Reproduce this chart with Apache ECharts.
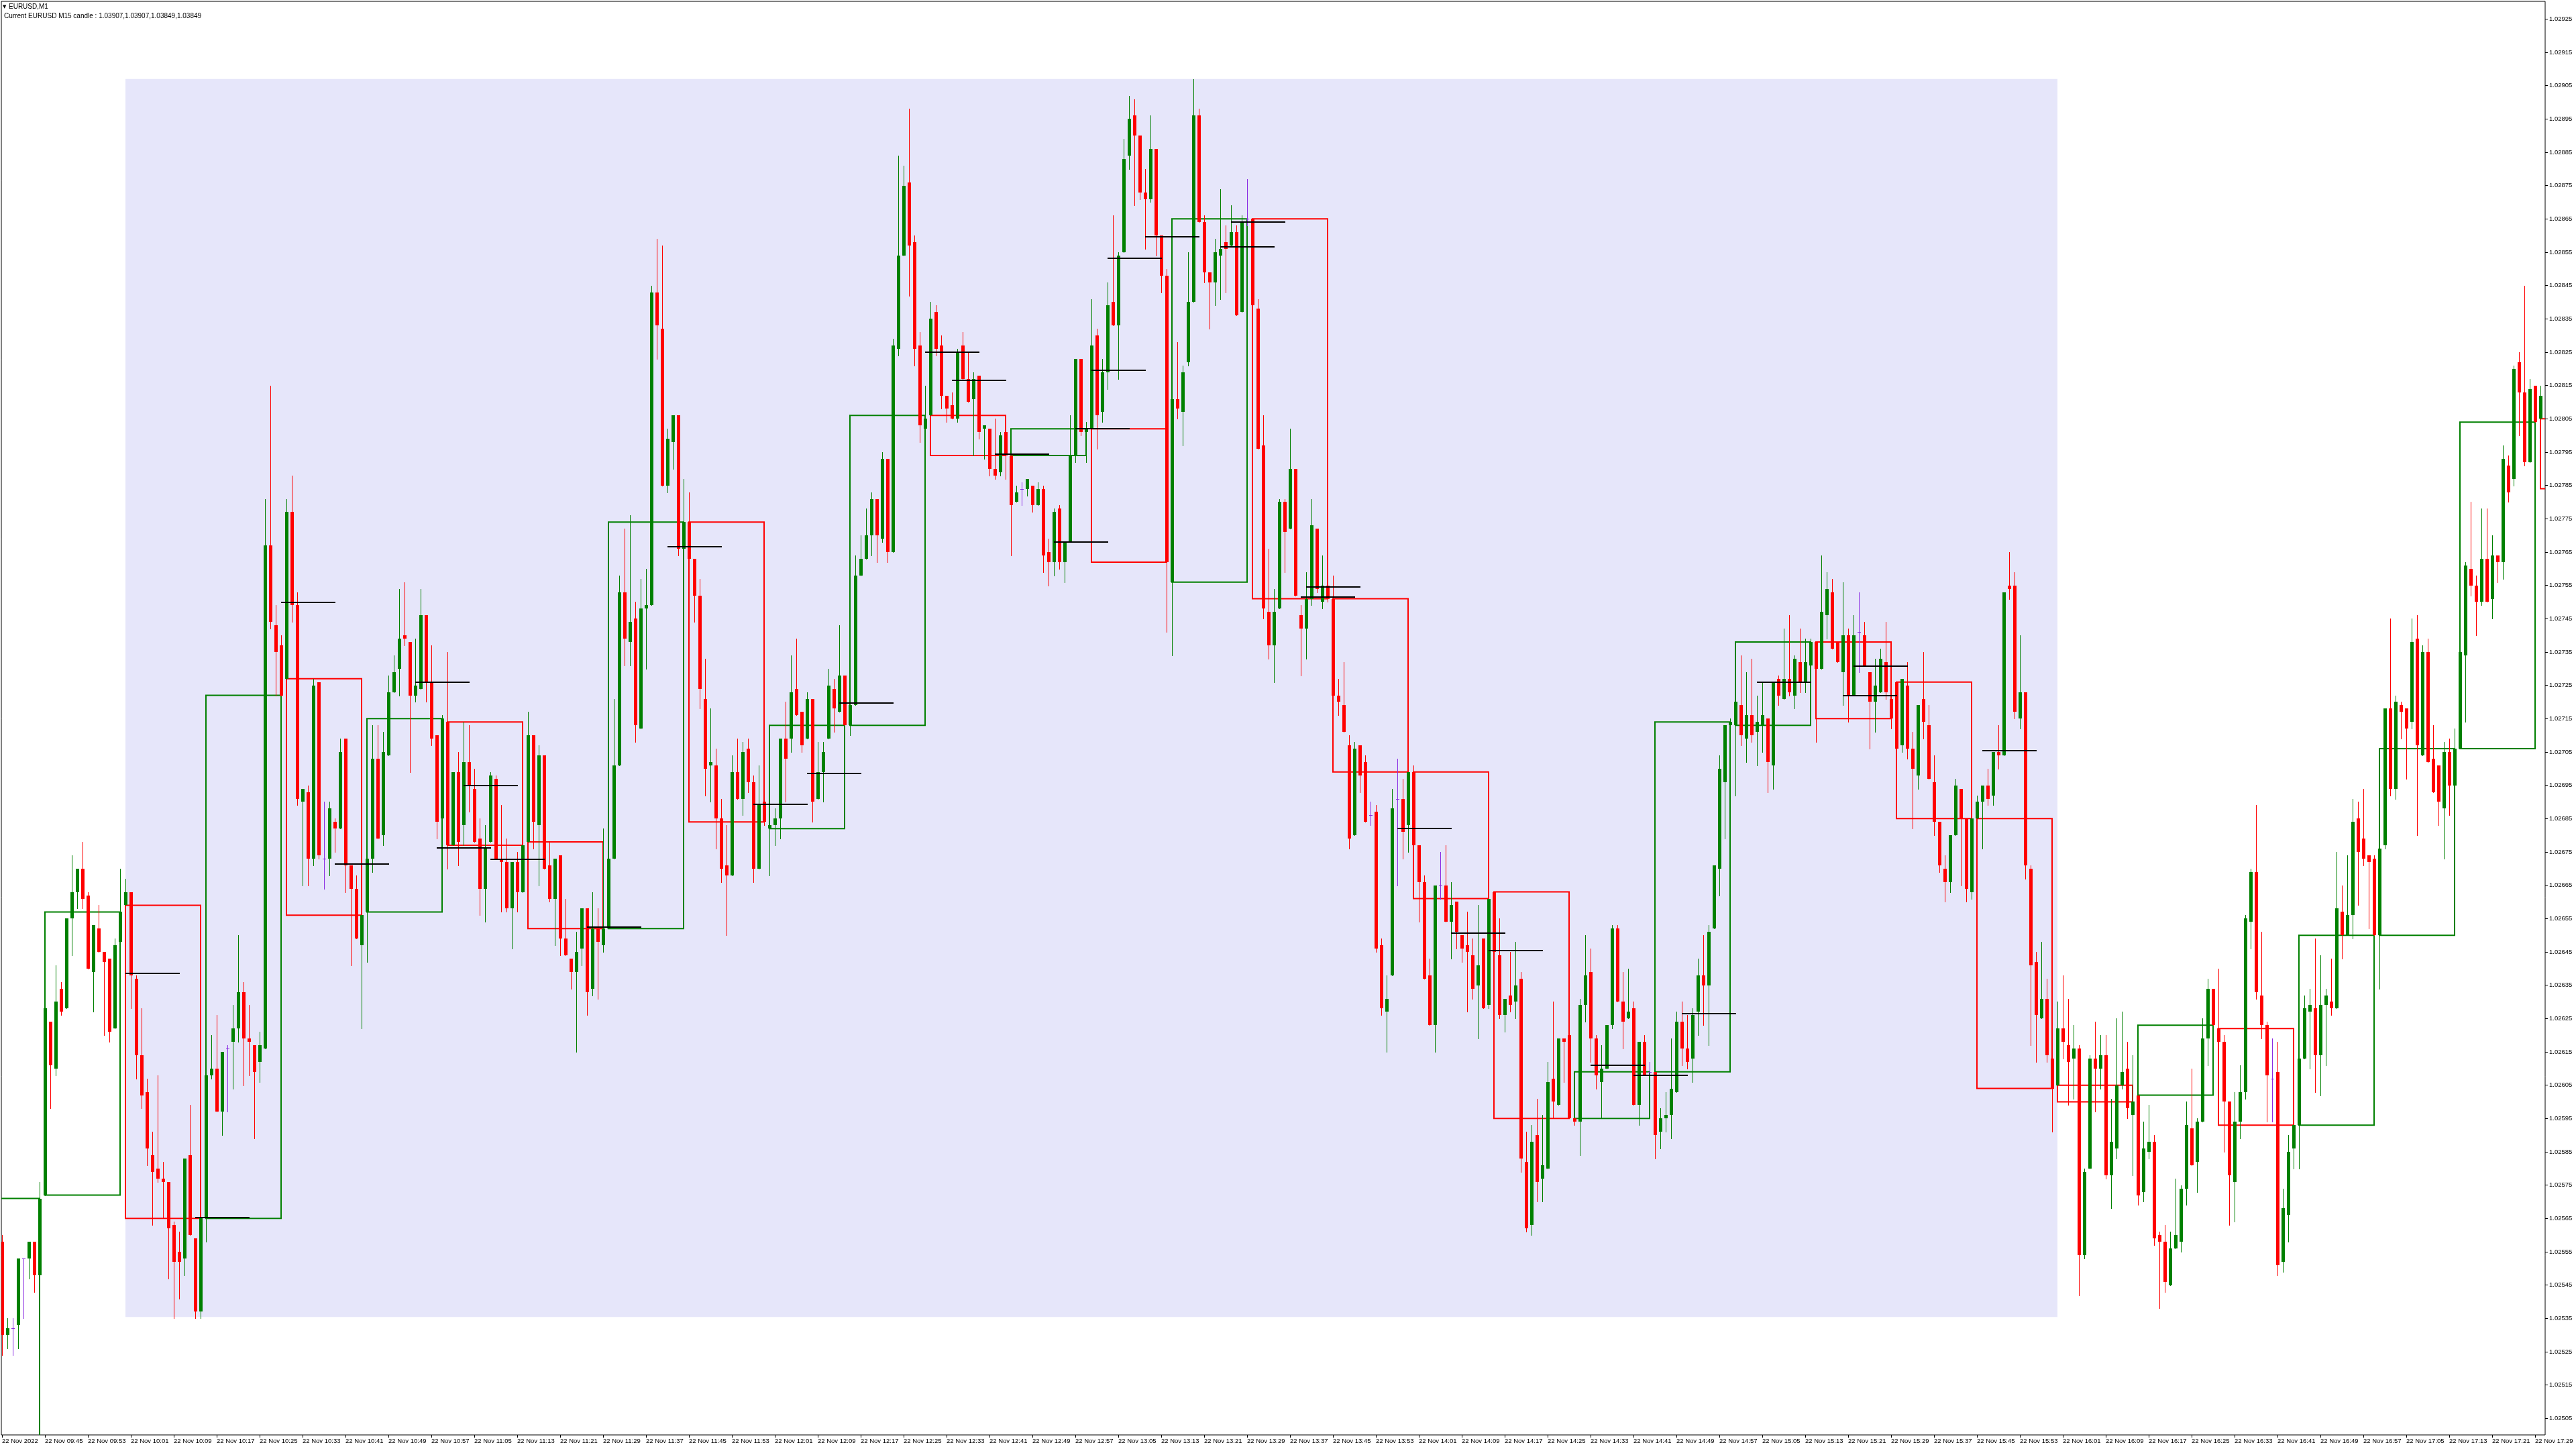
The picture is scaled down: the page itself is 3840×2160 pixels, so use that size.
<!DOCTYPE html>
<html><head><meta charset="utf-8">
<script src="https://cdn.jsdelivr.net/npm/echarts@6/dist/echarts.min.js"></script>
<style>html,body{margin:0;padding:0;background:#fff}#c{width:3840px;height:2160px}</style>
</head><body><div id="c"></div>
<script>
const xTickLabels = ['22 Nov 2022','22 Nov 09:45','22 Nov 09:53','22 Nov 10:01','22 Nov 10:09','22 Nov 10:17','22 Nov 10:25','22 Nov 10:33','22 Nov 10:41','22 Nov 10:49','22 Nov 10:57','22 Nov 11:05','22 Nov 11:13','22 Nov 11:21','22 Nov 11:29','22 Nov 11:37','22 Nov 11:45','22 Nov 11:53','22 Nov 12:01','22 Nov 12:09','22 Nov 12:17','22 Nov 12:25','22 Nov 12:33','22 Nov 12:41','22 Nov 12:49','22 Nov 12:57','22 Nov 13:05','22 Nov 13:13','22 Nov 13:21','22 Nov 13:29','22 Nov 13:37','22 Nov 13:45','22 Nov 13:53','22 Nov 14:01','22 Nov 14:09','22 Nov 14:17','22 Nov 14:25','22 Nov 14:33','22 Nov 14:41','22 Nov 14:49','22 Nov 14:57','22 Nov 15:05','22 Nov 15:13','22 Nov 15:21','22 Nov 15:29','22 Nov 15:37','22 Nov 15:45','22 Nov 15:53','22 Nov 16:01','22 Nov 16:09','22 Nov 16:17','22 Nov 16:25','22 Nov 16:33','22 Nov 16:41','22 Nov 16:49','22 Nov 16:57','22 Nov 17:05','22 Nov 17:13','22 Nov 17:21','22 Nov 17:29'];
const yTickLabels = ['1.02505','1.02515','1.02525','1.02535','1.02545','1.02555','1.02565','1.02575','1.02585','1.02595','1.02605','1.02615','1.02625','1.02635','1.02645','1.02655','1.02665','1.02675','1.02685','1.02695','1.02705','1.02715','1.02725','1.02735','1.02745','1.02755','1.02765','1.02775','1.02785','1.02795','1.02805','1.02815','1.02825','1.02835','1.02845','1.02855','1.02865','1.02875','1.02885','1.02895','1.02905','1.02915','1.02925'];

const opens = [1.02558,1.02530,1.02532,1.02533,1.02553,1.02553,1.02558,1.02548,1.02572,1.02624,
1.02610,1.02634,1.02628,1.02655,1.02663,1.02670,1.02662,1.02639,1.02652,1.02645,
1.02643,1.02622,1.02648,1.02659,1.02663,1.02637,1.02614,1.02603,1.02584,1.02580,
1.02577,1.02576,1.02563,1.02555,1.02553,1.02584,1.02559,1.02537,1.02565,1.02608,
1.02610,1.02597,1.02616,1.02618,1.02622,1.02633,1.02619,1.02617,1.02612,1.02616,
1.02767,1.02743,1.02737,1.02727,1.02777,1.02749,1.02690,1.02693,1.02673,1.02726,
1.02673,1.02673,1.02684,1.02682,1.02709,1.02671,1.02664,1.02647,1.02657,1.02673,
1.02703,1.02680,1.02704,1.02723,1.02730,1.02740,1.02738,1.02722,1.02724,1.02746,
1.02726,1.02710,1.02685,1.02714,1.02677,1.02699,1.02683,1.02702,1.02694,1.02679,
1.02664,1.02678,1.02697,1.02673,1.02672,1.02658,1.02672,1.02663,1.02678,1.02710,
1.02683,1.02704,1.02671,1.02661,1.02674,1.02649,1.02643,1.02639,1.02646,1.02658,
1.02634,1.02652,1.02647,1.02652,1.02673,1.02701,1.02753,1.02738,1.02745,1.02712,
1.02748,1.02749,1.02843,1.02832,1.02785,1.02798,1.02806,1.02766,1.02774,1.02763,
1.02752,1.02721,1.02701,1.02701,1.02685,1.02671,1.02668,1.02699,1.02691,1.02706,
1.02696,1.02670,1.02690,1.02682,1.02683,1.02685,1.02709,1.02709,1.02724,1.02717,
1.02709,1.02721,1.02691,1.02699,1.02709,1.02724,1.02717,1.02728,1.02713,1.02719,
1.02758,1.02763,1.02770,1.02781,1.02769,1.02793,1.02765,1.02826,1.02854,1.02876,
1.02858,1.02827,1.02802,1.02806,1.02837,1.02827,1.02812,1.02809,1.02805,1.02827,
1.02817,1.02811,1.02818,1.02802,1.02802,1.02790,1.02789,1.02801,1.02794,1.02780,
1.02784,1.02784,1.02785,1.02779,1.02784,1.02765,1.02762,1.02778,1.02762,1.02768,
1.02794,1.02823,1.02801,1.02802,1.02830,1.02807,1.02819,1.02840,1.02833,1.02855,
1.02884,1.02896,1.02890,1.02873,1.02871,1.02886,1.02860,1.02848,1.02756,1.02811,
1.02807,1.02822,1.02840,1.02896,1.02864,1.02849,1.02846,1.02854,1.02858,1.02857,
1.02861,1.02837,1.02865,1.02865,1.02838,1.02797,1.02747,1.02737,1.02748,1.02780,
1.02772,1.02790,1.02746,1.02742,1.02751,1.02772,1.02750,1.02755,1.02751,1.02722,
1.02719,1.02707,1.02680,1.02707,1.02702,1.02686,1.02687,1.02647,1.02627,1.02638,
1.02691,1.02691,1.02683,1.02699,1.02677,1.02666,1.02638,1.02623,1.02665,1.02665,
1.02654,1.02660,1.02650,1.02647,1.02644,1.02635,1.02649,1.02629,1.02663,1.02644,
1.02626,1.02632,1.02630,1.02637,1.02582,1.02563,1.02590,1.02577,1.02580,1.02607,
1.02599,1.02619,1.02620,1.02595,1.02594,1.02629,1.02639,1.02619,1.02606,1.02610,
1.02623,1.02652,1.02630,1.02625,1.02628,1.02599,1.02618,1.02609,1.02609,1.02591,
1.02595,1.02596,1.02603,1.02624,1.02616,1.02613,1.02627,1.02638,1.02635,1.02652,
1.02670,1.02696,1.02713,1.02713,1.02719,1.02709,1.02716,1.02711,1.02713,1.02715,
1.02701,1.02727,1.02721,1.02727,1.02722,1.02732,1.02726,1.02731,1.02738,1.02730,
1.02746,1.02753,1.02738,1.02729,1.02740,1.02722,1.02741,1.02740,1.02729,1.02720,
1.02723,1.02732,1.02721,1.02726,1.02707,1.02725,1.02706,1.02698,1.02721,1.02713,
1.02696,1.02684,1.02670,1.02666,1.02680,1.02694,1.02685,1.02663,1.02685,1.02690,
1.02695,1.02692,1.02705,1.02704,1.02755,1.02755,1.02715,1.02723,1.02670,1.02642,
1.02625,1.02631,1.02613,1.02605,1.02622,1.02617,1.02613,1.02616,1.02554,1.02580,
1.02613,1.02610,1.02614,1.02578,1.02586,1.02605,1.02610,1.02596,1.02602,1.02573,
1.02585,1.02588,1.02560,1.02558,1.02545,1.02556,1.02558,1.02574,1.02592,1.02582,
1.02594,1.02619,1.02634,1.02622,1.02618,1.02600,1.02576,1.02594,1.02603,1.02654,
1.02669,1.02632,1.02623,1.02607,1.02609,1.02552,1.02566,1.02586,1.02593,1.02613,
1.02627,1.02628,1.02614,1.02629,1.02630,1.02628,1.02657,1.02650,1.02656,1.02685,
1.02679,1.02674,1.02673,1.02650,1.02677,1.02718,1.02694,1.02719,1.02718,1.02714,
1.02739,1.02704,1.02735,1.02703,1.02701,1.02688,1.02705,1.02695,1.02706,1.02734,
1.02760,1.02755,1.02750,1.02763,1.02751,1.02764,1.02762,1.02791,1.02787,1.02822,
1.02813,1.02792,1.02815,1.02805];

const highs = [1.02560,1.02535,1.02535,1.02553,1.02553,1.02558,1.02558,1.02576,1.02628,1.02624,
1.02641,1.02636,1.02655,1.02674,1.02670,1.02678,1.02663,1.02653,1.02659,1.02645,
1.02643,1.02649,1.02670,1.02667,1.02663,1.02638,1.02628,1.02607,1.02591,1.02608,
1.02582,1.02576,1.02564,1.02561,1.02583,1.02599,1.02559,1.02565,1.02608,1.02620,
1.02626,1.02615,1.02617,1.02629,1.02650,1.02636,1.02629,1.02617,1.02621,1.02781,
1.02815,1.02749,1.02740,1.02781,1.02788,1.02753,1.02694,1.02695,1.02727,1.02726,
1.02690,1.02690,1.02685,1.02709,1.02709,1.02671,1.02668,1.02656,1.02673,1.02713,
1.02713,1.02711,1.02728,1.02734,1.02754,1.02756,1.02738,1.02739,1.02754,1.02746,
1.02737,1.02710,1.02716,1.02735,1.02699,1.02705,1.02714,1.02713,1.02700,1.02685,
1.02683,1.02699,1.02698,1.02689,1.02679,1.02672,1.02675,1.02677,1.02717,1.02710,
1.02707,1.02704,1.02678,1.02673,1.02674,1.02661,1.02643,1.02651,1.02658,1.02658,
1.02663,1.02658,1.02682,1.02673,1.02721,1.02758,1.02772,1.02776,1.02750,1.02757,
1.02760,1.02845,1.02859,1.02857,1.02802,1.02806,1.02806,1.02787,1.02783,1.02763,
1.02757,1.02733,1.02718,1.02706,1.02691,1.02683,1.02704,1.02709,1.02708,1.02709,
1.02698,1.02701,1.02690,1.02693,1.02688,1.02709,1.02720,1.02734,1.02739,1.02717,
1.02723,1.02721,1.02708,1.02708,1.02730,1.02727,1.02743,1.02728,1.02719,1.02764,
1.02770,1.02778,1.02783,1.02781,1.02795,1.02793,1.02829,1.02884,1.02881,1.02898,
1.02860,1.02831,1.02815,1.02840,1.02839,1.02830,1.02812,1.02813,1.02826,1.02831,
1.02825,1.02819,1.02818,1.02803,1.02802,1.02805,1.02801,1.02801,1.02794,1.02785,
1.02786,1.02787,1.02785,1.02786,1.02785,1.02769,1.02778,1.02779,1.02768,1.02806,
1.02823,1.02823,1.02804,1.02841,1.02832,1.02823,1.02846,1.02866,1.02855,1.02889,
1.02902,1.02901,1.02890,1.02880,1.02896,1.02886,1.02860,1.02850,1.02811,1.02828,
1.02821,1.02855,1.02907,1.02898,1.02866,1.02849,1.02859,1.02874,1.02863,1.02869,
1.02863,1.02866,1.02877,1.02865,1.02841,1.02806,1.02766,1.02754,1.02781,1.02781,
1.02802,1.02790,1.02749,1.02759,1.02781,1.02772,1.02764,1.02759,1.02758,1.02727,
1.02732,1.02710,1.02708,1.02707,1.02704,1.02690,1.02689,1.02649,1.02638,1.02694,
1.02703,1.02697,1.02699,1.02701,1.02677,1.02668,1.02643,1.02665,1.02675,1.02677,
1.02666,1.02660,1.02650,1.02657,1.02649,1.02659,1.02649,1.02661,1.02663,1.02655,
1.02631,1.02645,1.02648,1.02639,1.02591,1.02593,1.02601,1.02596,1.02612,1.02630,
1.02619,1.02619,1.02620,1.02595,1.02631,1.02650,1.02646,1.02620,1.02617,1.02623,
1.02653,1.02653,1.02639,1.02640,1.02630,1.02618,1.02620,1.02612,1.02609,1.02598,
1.02603,1.02619,1.02627,1.02630,1.02626,1.02628,1.02643,1.02650,1.02653,1.02671,
1.02704,1.02713,1.02715,1.02720,1.02734,1.02729,1.02733,1.02722,1.02726,1.02715,
1.02726,1.02728,1.02742,1.02746,1.02734,1.02742,1.02739,1.02739,1.02738,1.02764,
1.02759,1.02757,1.02738,1.02756,1.02742,1.02746,1.02753,1.02744,1.02729,1.02733,
1.02736,1.02744,1.02721,1.02726,1.02727,1.02732,1.02711,1.02719,1.02735,1.02719,
1.02704,1.02684,1.02674,1.02680,1.02697,1.02694,1.02685,1.02685,1.02692,1.02695,
1.02700,1.02705,1.02713,1.02753,1.02765,1.02759,1.02740,1.02723,1.02671,1.02645,
1.02648,1.02637,1.02613,1.02630,1.02638,1.02631,1.02623,1.02617,1.02580,1.02614,
1.02624,1.02620,1.02620,1.02601,1.02625,1.02627,1.02618,1.02614,1.02602,1.02594,
1.02599,1.02590,1.02561,1.02563,1.02561,1.02577,1.02575,1.02600,1.02610,1.02595,
1.02625,1.02637,1.02634,1.02640,1.02620,1.02600,1.02603,1.02611,1.02656,1.02670,
1.02689,1.02651,1.02624,1.02619,1.02618,1.02574,1.02590,1.02593,1.02613,1.02632,
1.02634,1.02649,1.02644,1.02634,1.02643,1.02675,1.02665,1.02674,1.02691,1.02690,
1.02694,1.02674,1.02674,1.02676,1.02718,1.02745,1.02722,1.02720,1.02718,1.02745,
1.02746,1.02737,1.02739,1.02713,1.02701,1.02708,1.02709,1.02712,1.02735,1.02762,
1.02780,1.02758,1.02778,1.02778,1.02770,1.02764,1.02797,1.02794,1.02821,1.02825,
1.02845,1.02817,1.02815,1.02815];

const lows = [1.02524,1.02526,1.02524,1.02526,1.02535,1.02547,1.02543,1.02540,1.02572,1.02598,
1.02608,1.02626,1.02628,1.02644,1.02658,1.02658,1.02640,1.02627,1.02645,1.02620,
1.02618,1.02622,1.02648,1.02659,1.02628,1.02607,1.02598,1.02581,1.02563,1.02576,
1.02565,1.02547,1.02535,1.02541,1.02548,1.02560,1.02535,1.02535,1.02558,1.02607,
1.02597,1.02590,1.02597,1.02604,1.02618,1.02605,1.02608,1.02589,1.02606,1.02616,
1.02742,1.02722,1.02722,1.02727,1.02744,1.02689,1.02665,1.02665,1.02671,1.02673,
1.02664,1.02668,1.02675,1.02682,1.02663,1.02641,1.02649,1.02622,1.02642,1.02669,
1.02679,1.02677,1.02704,1.02723,1.02722,1.02737,1.02699,1.02720,1.02724,1.02720,
1.02707,1.02679,1.02685,1.02670,1.02677,1.02671,1.02677,1.02687,1.02678,1.02656,
1.02654,1.02678,1.02673,1.02657,1.02657,1.02646,1.02657,1.02663,1.02678,1.02676,
1.02665,1.02670,1.02660,1.02647,1.02644,1.02644,1.02634,1.02615,1.02641,1.02626,
1.02632,1.02631,1.02645,1.02652,1.02673,1.02701,1.02731,1.02731,1.02708,1.02712,
1.02730,1.02749,1.02823,1.02785,1.02783,1.02790,1.02764,1.02766,1.02763,1.02744,
1.02718,1.02692,1.02690,1.02676,1.02666,1.02650,1.02668,1.02691,1.02686,1.02693,
1.02666,1.02670,1.02683,1.02668,1.02677,1.02679,1.02690,1.02705,1.02716,1.02705,
1.02709,1.02684,1.02691,1.02690,1.02709,1.02711,1.02717,1.02713,1.02710,1.02719,
1.02758,1.02763,1.02764,1.02762,1.02768,1.02762,1.02765,1.02824,1.02854,1.02842,
1.02821,1.02798,1.02802,1.02806,1.02824,1.02808,1.02804,1.02805,1.02804,1.02817,
1.02810,1.02794,1.02799,1.02793,1.02788,1.02787,1.02788,1.02787,1.02764,1.02780,
1.02779,1.02782,1.02777,1.02779,1.02759,1.02755,1.02758,1.02760,1.02756,1.02768,
1.02792,1.02800,1.02792,1.02802,1.02796,1.02804,1.02814,1.02833,1.02817,1.02855,
1.02880,1.02869,1.02871,1.02856,1.02870,1.02854,1.02843,1.02741,1.02734,1.02805,
1.02797,1.02821,1.02840,1.02864,1.02846,1.02832,1.02839,1.02841,1.02843,1.02857,
1.02836,1.02837,1.02863,1.02839,1.02796,1.02745,1.02733,1.02726,1.02748,1.02759,
1.02772,1.02752,1.02728,1.02733,1.02749,1.02753,1.02748,1.02750,1.02722,1.02716,
1.02711,1.02676,1.02680,1.02693,1.02684,1.02683,1.02645,1.02626,1.02615,1.02638,
1.02665,1.02673,1.02675,1.02677,1.02654,1.02637,1.02623,1.02615,1.02661,1.02654,
1.02643,1.02646,1.02642,1.02627,1.02631,1.02619,1.02628,1.02628,1.02643,1.02625,
1.02621,1.02627,1.02625,1.02579,1.02561,1.02560,1.02570,1.02570,1.02580,1.02595,
1.02599,1.02606,1.02595,1.02593,1.02584,1.02624,1.02612,1.02604,1.02595,1.02610,
1.02622,1.02630,1.02616,1.02625,1.02599,1.02593,1.02608,1.02608,1.02583,1.02586,
1.02591,1.02589,1.02603,1.02611,1.02610,1.02606,1.02620,1.02623,1.02617,1.02652,
1.02662,1.02679,1.02713,1.02692,1.02707,1.02702,1.02708,1.02701,1.02705,1.02693,
1.02694,1.02719,1.02721,1.02722,1.02718,1.02723,1.02723,1.02731,1.02708,1.02730,
1.02739,1.02736,1.02732,1.02719,1.02714,1.02722,1.02729,1.02731,1.02706,1.02711,
1.02723,1.02721,1.02712,1.02705,1.02705,1.02703,1.02682,1.02694,1.02709,1.02697,
1.02680,1.02669,1.02660,1.02663,1.02680,1.02665,1.02660,1.02661,1.02685,1.02676,
1.02689,1.02689,1.02700,1.02704,1.02751,1.02715,1.02712,1.02667,1.02617,1.02612,
1.02625,1.02612,1.02591,1.02605,1.02613,1.02599,1.02601,1.02542,1.02553,1.02580,
1.02597,1.02604,1.02577,1.02568,1.02583,1.02604,1.02595,1.02578,1.02569,1.02570,
1.02583,1.02557,1.02538,1.02543,1.02545,1.02556,1.02555,1.02569,1.02581,1.02573,
1.02594,1.02611,1.02623,1.02604,1.02585,1.02563,1.02564,1.02589,1.02601,1.02646,
1.02631,1.02619,1.02594,1.02594,1.02548,1.02549,1.02558,1.02580,1.02580,1.02613,
1.02610,1.02603,1.02602,1.02611,1.02626,1.02628,1.02643,1.02650,1.02649,1.02659,
1.02671,1.02652,1.02650,1.02634,1.02676,1.02692,1.02691,1.02709,1.02697,1.02712,
1.02680,1.02704,1.02702,1.02693,1.02683,1.02673,1.02686,1.02695,1.02706,1.02714,
1.02752,1.02740,1.02749,1.02750,1.02745,1.02756,1.02757,1.02780,1.02785,1.02800,
1.02791,1.02792,1.02804,1.02805];

const closes = [1.02530,1.02532,1.02532,1.02553,1.02553,1.02558,1.02548,1.02571,1.02628,1.02611,
1.02630,1.02627,1.02655,1.02663,1.02670,1.02661,1.02640,1.02653,1.02645,1.02642,
1.02621,1.02647,1.02657,1.02663,1.02638,1.02614,1.02602,1.02586,1.02579,1.02577,
1.02576,1.02562,1.02552,1.02552,1.02583,1.02560,1.02537,1.02565,1.02608,1.02610,
1.02597,1.02615,1.02616,1.02622,1.02633,1.02619,1.02618,1.02609,1.02617,1.02767,
1.02744,1.02735,1.02722,1.02777,1.02749,1.02691,1.02694,1.02673,1.02725,1.02674,
1.02673,1.02688,1.02682,1.02705,1.02671,1.02664,1.02649,1.02656,1.02673,1.02703,
1.02679,1.02705,1.02723,1.02729,1.02739,1.02739,1.02722,1.02725,1.02746,1.02726,
1.02709,1.02684,1.02715,1.02677,1.02699,1.02678,1.02702,1.02695,1.02678,1.02664,
1.02676,1.02698,1.02673,1.02672,1.02658,1.02672,1.02663,1.02677,1.02710,1.02684,
1.02704,1.02670,1.02661,1.02673,1.02649,1.02644,1.02639,1.02645,1.02658,1.02633,
1.02652,1.02648,1.02652,1.02673,1.02701,1.02753,1.02739,1.02744,1.02713,1.02748,
1.02749,1.02843,1.02833,1.02785,1.02799,1.02806,1.02766,1.02774,1.02763,1.02752,
1.02724,1.02700,1.02702,1.02685,1.02670,1.02668,1.02699,1.02691,1.02705,1.02696,
1.02670,1.02689,1.02684,1.02683,1.02685,1.02709,1.02703,1.02723,1.02716,1.02707,
1.02721,1.02690,1.02699,1.02705,1.02725,1.02718,1.02728,1.02713,1.02719,1.02758,
1.02763,1.02770,1.02781,1.02770,1.02793,1.02765,1.02827,1.02854,1.02875,1.02857,
1.02826,1.02803,1.02805,1.02835,1.02826,1.02812,1.02808,1.02805,1.02825,1.02817,
1.02810,1.02817,1.02801,1.02803,1.02790,1.02788,1.02800,1.02794,1.02779,1.02783,
1.02784,1.02787,1.02779,1.02784,1.02764,1.02762,1.02777,1.02762,1.02768,1.02794,
1.02823,1.02801,1.02802,1.02827,1.02806,1.02819,1.02839,1.02833,1.02854,1.02883,
1.02895,1.02890,1.02873,1.02871,1.02886,1.02860,1.02848,1.02762,1.02811,1.02808,
1.02819,1.02840,1.02896,1.02864,1.02849,1.02846,1.02855,1.02856,1.02856,1.02861,
1.02836,1.02864,1.02865,1.02839,1.02796,1.02748,1.02737,1.02747,1.02780,1.02771,
1.02790,1.02752,1.02742,1.02751,1.02773,1.02754,1.02755,1.02751,1.02722,1.02720,
1.02711,1.02679,1.02706,1.02698,1.02684,1.02686,1.02646,1.02628,1.02631,1.02688,
1.02691,1.02681,1.02699,1.02677,1.02666,1.02637,1.02623,1.02665,1.02665,1.02654,
1.02659,1.02651,1.02646,1.02645,1.02634,1.02641,1.02628,1.02661,1.02645,1.02626,
1.02631,1.02629,1.02635,1.02583,1.02562,1.02588,1.02576,1.02581,1.02606,1.02600,
1.02619,1.02618,1.02595,1.02594,1.02629,1.02638,1.02619,1.02608,1.02610,1.02623,
1.02652,1.02630,1.02624,1.02627,1.02599,1.02618,1.02608,1.02609,1.02590,1.02595,
1.02596,1.02604,1.02624,1.02616,1.02612,1.02626,1.02638,1.02635,1.02651,1.02671,
1.02700,1.02713,1.02714,1.02720,1.02710,1.02716,1.02710,1.02714,1.02716,1.02702,
1.02726,1.02722,1.02727,1.02723,1.02733,1.02726,1.02732,1.02738,1.02730,1.02747,
1.02754,1.02736,1.02732,1.02740,1.02722,1.02740,1.02741,1.02731,1.02720,1.02725,
1.02733,1.02723,1.02715,1.02706,1.02727,1.02706,1.02700,1.02719,1.02714,1.02697,
1.02684,1.02671,1.02666,1.02680,1.02695,1.02685,1.02664,1.02685,1.02690,1.02695,
1.02691,1.02705,1.02704,1.02753,1.02754,1.02717,1.02723,1.02671,1.02641,1.02626,
1.02631,1.02614,1.02604,1.02622,1.02618,1.02612,1.02616,1.02554,1.02579,1.02613,
1.02610,1.02614,1.02578,1.02588,1.02605,1.02609,1.02598,1.02600,1.02572,1.02586,
1.02588,1.02559,1.02558,1.02546,1.02556,1.02560,1.02574,1.02593,1.02581,1.02594,
1.02619,1.02634,1.02623,1.02618,1.02600,1.02578,1.02594,1.02603,1.02655,1.02669,
1.02633,1.02623,1.02608,1.02607,1.02551,1.02568,1.02585,1.02593,1.02613,1.02628,
1.02629,1.02614,1.02629,1.02632,1.02628,1.02658,1.02650,1.02656,1.02684,1.02675,
1.02673,1.02672,1.02650,1.02676,1.02718,1.02694,1.02720,1.02717,1.02712,1.02738,
1.02707,1.02735,1.02702,1.02693,1.02690,1.02705,1.02695,1.02706,1.02735,1.02761,
1.02755,1.02750,1.02763,1.02750,1.02764,1.02762,1.02793,1.02783,1.02820,1.02813,
1.02792,1.02814,1.02804,1.02812];

// M15 candle boxes (first M1 bar index of each 15-minute period, open, close)
const m15Start = [-7,8,23,38,53,68,83,98,113,128,143,158,173,188,203,218,233,248,263,278,293,308,323,338,353,368,383,398,413,428,443,458,473];
const m15Open  = [1.02490,1.02572,1.02659,1.02565,1.02727,1.02657,1.02714,1.02678,1.02652,1.02774,1.02682,1.02713,1.02806,1.02794,1.02802,1.02756,1.02865,1.02751,1.02699,1.02663,1.02595,1.02609,1.02713,1.02738,1.02726,1.02685,1.02605,1.02602,1.02622,1.02593,1.02650,1.02706,1.02805];
const m15Close = [1.02571,1.02657,1.02565,1.02722,1.02656,1.02715,1.02677,1.02652,1.02774,1.02684,1.02713,1.02806,1.02794,1.02802,1.02762,1.02865,1.02751,1.02699,1.02661,1.02595,1.02609,1.02714,1.02738,1.02715,1.02685,1.02604,1.02600,1.02623,1.02593,1.02650,1.02706,1.02804,1.02784];

// black horizontal level segments
const levelStart = [23,36,52,62,77,81,86,91,109,124,140,150,156,172,177,185,196,200,203,206,213,227,229,242,243,260,270,277,296,304,313,327,343,345,369];
const levelEnd   = [33,46,62,72,87,91,96,101,119,134,150,160,166,182,187,195,206,210,213,216,223,237,239,252,253,270,280,287,306,314,323,337,353,355,379];
const levelPrice = [1.026385,1.025653,1.027499,1.026714,1.027259,1.026762,1.026949,1.026727,1.026525,1.027666,1.026892,1.026985,1.027197,1.028250,1.028166,1.027943,1.027681,1.028020,1.028195,1.028532,1.028597,1.028566,1.028640,1.027515,1.027546,1.026821,1.026506,1.026453,1.026110,1.026080,1.026265,1.027259,1.027219,1.027308,1.027055];

// session range (10:00 - 16:00)
const sessionStart = [23], sessionEnd = [383], sessionHigh = [1.02907], sessionLow = [1.025354];

const GREEN = '#008000', RED = '#ff0000', DOJI = '#8a2be2';
const FONT = 'Liberation Sans, Arial, sans-serif';

const candleData = opens.map((o, k) => [k, o, highs[k], lows[k], closes[k]]);
const boxData = m15Start.map((s, k) => [s, s + 14, m15Open[k], m15Close[k]]);
const levelData = levelStart.map((s, k) => [s, levelEnd[k], levelPrice[k]]);
const sessionData = sessionStart.map((s, k) => [s, sessionEnd[k], sessionHigh[k], sessionLow[k]]);

function renderCandle(params, api) {
  const i = api.value(0), o = api.value(1), h = api.value(2), l = api.value(3), c = api.value(4);
  const pO = api.coord([i, o]);
  const x = Math.round(pO[0]);
  const yO = pO[1], yC = api.coord([i, c])[1];
  const yH = api.coord([i, Math.max(h, o, c)])[1], yL = api.coord([i, Math.min(l, o, c)])[1];
  const color = c > o ? GREEN : (c < o ? RED : DOJI);
  const top = Math.round(Math.min(yO, yC)), bot = Math.round(Math.max(yO, yC));
  const wt = Math.round(yH), wb = Math.round(yL);
  return {type: 'group', children: [
    {type: 'rect', shape: {x: x, y: wt, width: 1, height: Math.max(1, wb - wt + 1)}, style: {fill: color}},
    {type: 'rect', shape: {x: x - 2, y: top, width: 5, height: Math.max(1, bot - top)}, style: {fill: color}}
  ]};
}
function renderBox(params, api) {
  const s = api.value(0), e = api.value(1), o = api.value(2), c = api.value(3);
  const p1 = api.coord([s, Math.max(o, c)]), p2 = api.coord([e, Math.min(o, c)]);
  return {type: 'rect', shape: {x: p1[0], y: p1[1], width: p2[0] - p1[0], height: p2[1] - p1[1]},
    style: {fill: 'none', stroke: c > o ? GREEN : RED, lineWidth: 2}};
}
function renderLevel(params, api) {
  const p1 = api.coord([api.value(0), api.value(2)]), p2 = api.coord([api.value(1), api.value(2)]);
  const y = Math.round(p1[1]);
  return {type: 'line', shape: {x1: p1[0], y1: y, x2: p2[0] + 1, y2: y}, style: {stroke: '#000', lineWidth: 2}};
}
function renderSession(params, api) {
  const p1 = api.coord([api.value(0), api.value(2)]), p2 = api.coord([api.value(1), api.value(3)]);
  return {type: 'rect', shape: {x: p1[0], y: p1[1], width: p2[0] - p1[0], height: p2[1] - p1[1]}, style: {fill: '#e6e6fa'}};
}

const chart = echarts.init(document.getElementById('c'), null, {renderer: 'canvas', width: 3840, height: 2160});
const hiddenAxis = (g) => ({gridIndex: g, type: 'value', min: 5, max: 6, show: false,
  axisLine: {show: false, onZero: false}, axisTick: {show: false}, axisLabel: {show: false}, splitLine: {show: false}});
const option = {
  animation: false,
  backgroundColor: '#ffffff',
  grid: [
    {left: 2, top: 2, width: 3792, height: 2137, show: true, borderColor: '#000', borderWidth: 1, backgroundColor: '#ffffff'},
    {left: 3, top: 2, width: 3776, height: 2137, show: false},
    {left: 2, top: 28.3, width: 3792, height: 2086, show: false}
  ],
  xAxis: [
    {gridIndex: 0, type: 'value', min: -0.125, max: 473.875, show: false,
      axisLine: {show: false, onZero: false}, axisTick: {show: false}, axisLabel: {show: false}, splitLine: {show: false}},
    {gridIndex: 1, type: 'value', min: 0, max: 472, interval: 8, position: 'bottom',
      axisLine: {show: false, onZero: false}, splitLine: {show: false},
      axisTick: {show: true, length: 4, lineStyle: {color: '#000', width: 1}},
      axisLabel: {show: true, color: '#000', fontFamily: FONT, fontSize: 9.5, align: 'left', margin: 4,
        formatter: v => xTickLabels[Math.round(v / 8)] || ''}},
    hiddenAxis(2)
  ],
  yAxis: [
    {gridIndex: 0, type: 'value', min: 1.0250003, max: 1.029303, show: false,
      axisLine: {show: false, onZero: false}, axisTick: {show: false}, axisLabel: {show: false}, splitLine: {show: false}},
    hiddenAxis(1),
    {gridIndex: 2, type: 'value', min: 0, max: 42, interval: 1, position: 'right',
      axisLine: {show: false, onZero: false}, splitLine: {show: false},
      axisTick: {show: true, length: 4, lineStyle: {color: '#000', width: 1}},
      axisLabel: {show: true, color: '#000', fontFamily: FONT, fontSize: 9.5, margin: 6,
        formatter: v => yTickLabels[Math.round(v)] || ''}}
  ],
  graphic: [
    {type: 'text', left: 4, top: 7, style: {text: '\u25BC', font: '7px "DejaVu Sans"', fill: '#000'}},
    {type: 'text', left: 13, top: 5, style: {text: 'EURUSD,M1', font: '10px ' + FONT, fill: '#000'}},
    {type: 'text', left: 6, top: 19, style: {text: 'Current EURUSD M15 candle : 1.03907,1.03907,1.03849,1.03849', font: '10px ' + FONT, fill: '#000'}}
  ],
  series: [
    {type: 'custom', name: 'session', xAxisIndex: 0, yAxisIndex: 0, z: 1, clip: true, silent: true,
      renderItem: renderSession, data: sessionData},
    {type: 'custom', name: 'm15', xAxisIndex: 0, yAxisIndex: 0, z: 2, clip: true, silent: true,
      renderItem: renderBox, data: boxData},
    {type: 'custom', name: 'candles', xAxisIndex: 0, yAxisIndex: 0, z: 3, clip: true, silent: true,
      renderItem: renderCandle, data: candleData},
    {type: 'custom', name: 'levels', xAxisIndex: 0, yAxisIndex: 0, z: 4, clip: true, silent: true,
      renderItem: renderLevel, data: levelData}
  ]
};
chart.setOption(option);
</script>
</body></html>
